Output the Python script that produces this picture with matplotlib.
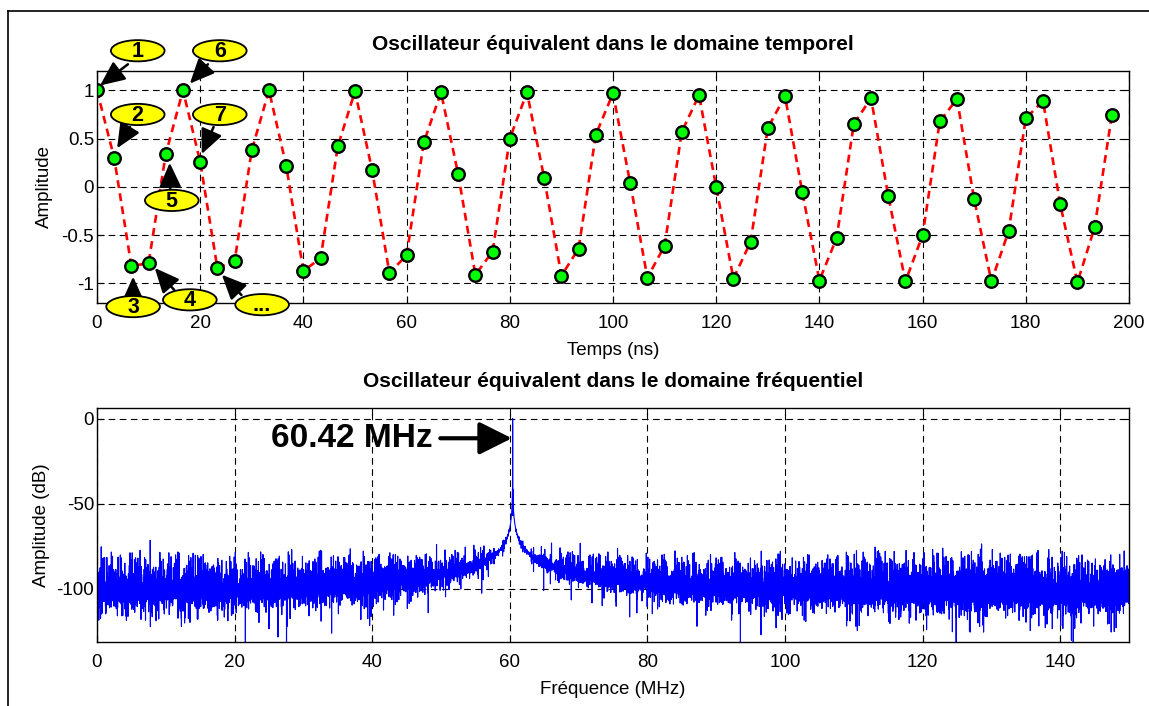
#!/usr/bin/env python3
"""Equivalent oscillator: time-domain samples and spectrum."""

import matplotlib

matplotlib.use("Agg")

import matplotlib.pyplot as plt
import numpy as np
from matplotlib.lines import Line2D
from matplotlib.patches import Ellipse

plt.rcParams["font.family"] = ["Liberation Sans", "DejaVu Sans"]
plt.rcParams["axes.unicode_minus"] = False

# --- time domain samples --------------------------------------------------
FS_MHZ = 300.0          # sampling rate -> 3.33 ns between samples
F0_MHZ = 60.4178        # oscillator frequency, shown rounded as 60.42 MHz
AMPLITUDES = [
    1.00, 0.30, -0.82, -0.79, 0.34, 1.00, 0.26, -0.84, -0.77, 0.38,
    1.00, 0.22, -0.87, -0.74, 0.42, 0.99, 0.17, -0.89, -0.71, 0.46,
    0.98, 0.13, -0.91, -0.67, 0.50, 0.98, 0.09, -0.92, -0.64, 0.54,
    0.97, 0.04, -0.94, -0.61, 0.57, 0.95, 0.00, -0.95, -0.57, 0.61,
    0.94, -0.05, -0.97, -0.53, 0.65, 0.92, -0.09, -0.98, -0.50, 0.68,
    0.91, -0.13, -0.98, -0.46, 0.71, 0.89, -0.18, -0.99, -0.42, 0.74,
]
SAMPLE_TIMES_NS = np.arange(len(AMPLITUDES)) * 1e3 / FS_MHZ

# numbered callouts: label, ellipse centre, arrow tail, arrow tip (data units)
CALLOUT_LABELS = ["1", "2", "3", "4", "5", "6", "7", "..."]
CALLOUT_CENTRES = [(7.9, 1.41), (7.9, 0.75), (7.0, -1.24), (18.0, -1.17),
                   (14.5, -0.14), (23.8, 1.41), (23.8, 0.75), (32.0, -1.22)]
CALLOUT_TAILS = [(6.0, 1.27), (6.4, 0.62), (7.0, -1.13), (15.0, -1.07),
                 (14.2, -0.02), (21.5, 1.27), (22.6, 0.62), (28.0, -1.12)]
CALLOUT_TIPS = [(0.6, 1.05), (3.9, 0.40), (7.0, -0.93), (11.2, -0.84),
                (14.1, 0.25), (18.0, 1.07), (20.3, 0.34), (24.2, -0.91)]

# --- spectrum of the quantised oscillator ---------------------------------
N_FFT = 65536
ADC_HALF_LEVELS = 210   # quantiser levels per unit amplitude

TITLE_TIME = "Oscillateur équivalent dans le domaine temporel"
TITLE_FREQ = "Oscillateur équivalent dans le domaine fréquentiel"


def compute_spectrum():
    n = np.arange(N_FFT)
    signal = np.cos(2 * np.pi * F0_MHZ / FS_MHZ * n)
    quantised = np.floor(signal * ADC_HALF_LEVELS) / ADC_HALF_LEVELS
    spectrum = np.abs(np.fft.fft(quantised * np.hamming(N_FFT)))[: N_FFT // 2]
    freqs = np.arange(N_FFT // 2) * FS_MHZ / N_FFT
    return freqs, 20 * np.log10(spectrum / spectrum.max() + 1e-12)


def style_axes(ax):
    ax.grid(True, color="black", linestyle=(0, (6, 4)), linewidth=0.8)
    ax.tick_params(direction="in", top=True, right=True, length=5, labelsize=13.5)
    ax.tick_params(axis="x", pad=9)
    ax.tick_params(axis="y", pad=2)
    for spine in ax.spines.values():
        spine.set_linewidth(1.0)


def main():
    fig = plt.figure(figsize=(11.49, 7.06), dpi=100)

    # border of the original figure window
    fig.add_artist(Line2D([0.0072, 0.0072], [0, 0.9844], transform=fig.transFigure,
                          color="black", lw=1.2))
    fig.add_artist(Line2D([0.0072, 1.0], [0.9844, 0.9844], transform=fig.transFigure,
                          color="black", lw=1.2))

    # time domain
    ax1 = fig.add_axes([0.0844, 0.5712, 0.8982, 0.3282])
    ax1.plot(SAMPLE_TIMES_NS, AMPLITUDES, color="red", linestyle=(0, (3, 2)),
             linewidth=1.9, marker="o", markersize=9, markerfacecolor="#00ff00",
             markeredgecolor="black", markeredgewidth=1.7)
    ax1.set_xlim(0, 200)
    ax1.set_ylim(-1.2, 1.2)
    ax1.set_xticks(np.arange(0, 201, 20))
    ax1.set_yticks([-1, -0.5, 0, 0.5, 1])
    ax1.set_yticklabels(["-1", "-0.5", "0", "0.5", "1"])
    style_axes(ax1)
    ax1.set_title(TITLE_TIME, fontsize=15, fontweight="bold", pad=15)
    ax1.set_xlabel("Temps (ns)", fontsize=13.5, labelpad=7)
    ax1.set_ylabel("Amplitude", fontsize=13.5, labelpad=6)

    for label, centre, tail, tip in zip(CALLOUT_LABELS, CALLOUT_CENTRES,
                                        CALLOUT_TAILS, CALLOUT_TIPS):
        ax1.annotate("", xy=tip, xytext=tail, annotation_clip=False, zorder=6,
                     arrowprops=dict(arrowstyle="-|>,head_length=1.0,head_width=0.45",
                                     color="black", lw=1.8, mutation_scale=15,
                                     shrinkA=0, shrinkB=0))
        ax1.add_patch(Ellipse(centre, 10.4, 0.22, facecolor="yellow",
                              edgecolor="black", lw=1.3, clip_on=False, zorder=7))
        ax1.text(centre[0], centre[1] - 0.01, label, ha="center", va="center",
                 fontsize=15.5, fontweight="bold", zorder=8, clip_on=False)

    # frequency domain
    freqs, level_db = compute_spectrum()
    ax2 = fig.add_axes([0.0844, 0.0911, 0.8982, 0.3306])
    ax2.plot(freqs, level_db, color="#0000ff", linewidth=0.8)
    ax2.set_xlim(0, 150)
    ax2.set_ylim(-131, 6)
    ax2.set_xticks(np.arange(0, 141, 20))
    ax2.set_yticks([-100, -50, 0])
    style_axes(ax2)
    ax2.set_title(TITLE_FREQ, fontsize=15, fontweight="bold", pad=15)
    ax2.set_xlabel("Fréquence (MHz)", fontsize=13.5, labelpad=7)
    ax2.set_ylabel("Amplitude (dB)", fontsize=13.5, labelpad=5)

    ax2.text(48.8, -16.7, f"{F0_MHZ:.2f} MHz", ha="right", va="baseline",
             fontsize=24, fontweight="bold")
    ax2.annotate("", xy=(60.3, -11.6), xytext=(49.9, -11.6),
                 arrowprops=dict(arrowstyle="-|>,head_length=1.0,head_width=0.5",
                                 color="black", lw=3, mutation_scale=20,
                                 shrinkA=0, shrinkB=0))

    fig.savefig("out.png", dpi=100)
    plt.close(fig)


if __name__ == "__main__":
    main()
